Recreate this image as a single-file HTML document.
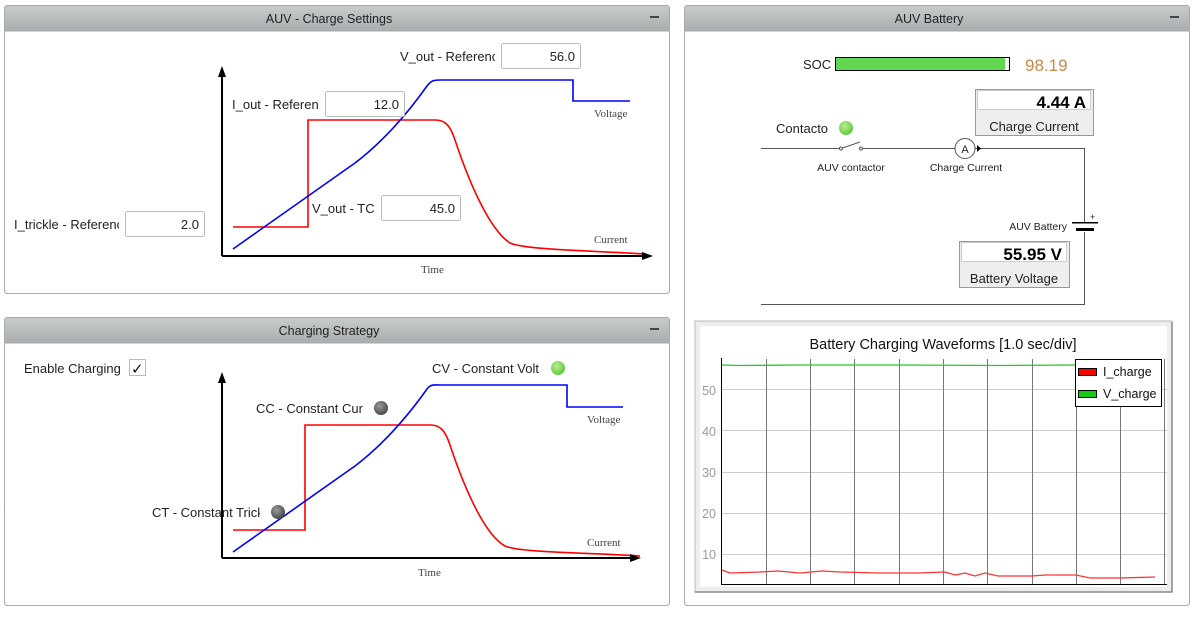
<!DOCTYPE html>
<html><head><meta charset="utf-8"><style>
body{margin:0;background:#fff;font-family:"Liberation Sans","DejaVu Sans",sans-serif;}
svg text{font-family:"Liberation Sans","DejaVu Sans",sans-serif;}
.serif{font-family:"Liberation Serif",serif !important;fill:#444;font-size:11px}
</style></head><body>
<svg width="1195" height="612" viewBox="0 0 1195 612" xmlns="http://www.w3.org/2000/svg">
<defs>
<linearGradient id="hd" x1="0" y1="0" x2="0" y2="1"><stop offset="0" stop-color="#c9cccd"/><stop offset="1" stop-color="#a9adae"/></linearGradient>
<radialGradient id="gl" cx="0.4" cy="0.35" r="0.7"><stop offset="0" stop-color="#b8f08a"/><stop offset="1" stop-color="#5cc53a"/></radialGradient>
<radialGradient id="gd" cx="0.4" cy="0.35" r="0.7"><stop offset="0" stop-color="#999"/><stop offset="1" stop-color="#444"/></radialGradient>
<clipPath id="c1"><rect x="400" y="40" width="95" height="30"/></clipPath>
<clipPath id="c2"><rect x="232" y="90" width="87" height="30"/></clipPath>
<clipPath id="c3"><rect x="14" y="210" width="105" height="30"/></clipPath>
<clipPath id="c4"><rect x="432" y="355" width="107" height="30"/></clipPath>
<clipPath id="c5"><rect x="256" y="395" width="107" height="30"/></clipPath>
<clipPath id="c6"><rect x="152" y="500" width="108" height="30"/></clipPath>
</defs>
<!-- Panel 1 -->
<rect x="4.5" y="5.5" width="665" height="288" rx="3" fill="#fff" stroke="#aaa"/>
<path d="M4.5 31 V8.5 a3 3 0 0 1 3 -3 H666.5 a3 3 0 0 1 3 3 V31 Z" fill="url(#hd)" stroke="#aaa"/>
<text x="329" y="23" font-size="12.5" text-anchor="middle" fill="#222">AUV - Charge Settings</text>
<rect x="650" y="16" width="9" height="2" fill="#444"/>
<g fill="none" stroke-width="1.6">
<path d="M233 227 H308 V120 H435 C445 120 450 125 455 140 C470 185 490 230 510 243 C525 250 600 251 645 254" stroke="#f00"/>
<path d="M233 249 L355 163 C385 140 410 110 427 86 C431 81 433 80 440 80 H573 V101 H630" stroke="#00f"/>
</g>
<path d="M222 256 V74 M222 256 H645" stroke="#000" stroke-width="2" fill="none"/>
<path d="M222 66 L218 77 L226 77Z M653 256 L642 252 L642 260Z" fill="#000"/>
<text x="594" y="117" class="serif">Voltage</text>
<text x="594" y="243" class="serif">Current</text>
<text x="421" y="273" class="serif">Time</text>
<g font-size="13" fill="#222">
<text x="400" y="61" clip-path="url(#c1)">V_out - Reference</text>
<text x="232" y="109" clip-path="url(#c2)">I_out - Reference</text>
<text x="312" y="213">V_out - TC</text>
<text x="14" y="229" clip-path="url(#c3)">I_trickle - Reference</text>
</g>
<g fill="#fff" stroke="#bbb"><rect x="501.5" y="43.5" width="79" height="25" rx="2"/><rect x="325.5" y="91.5" width="79" height="25" rx="2"/><rect x="381.5" y="195.5" width="79" height="25" rx="2"/><rect x="125.5" y="211.5" width="79" height="25" rx="2"/></g>
<g font-size="13" fill="#222" text-anchor="end"><text x="575" y="61">56.0</text><text x="399" y="109">12.0</text><text x="455" y="213">45.0</text><text x="199" y="229">2.0</text></g>

<!-- Panel 2 -->
<rect x="4.5" y="317.5" width="665" height="288" rx="3" fill="#fff" stroke="#aaa"/>
<path d="M4.5 343 V320.5 a3 3 0 0 1 3 -3 H666.5 a3 3 0 0 1 3 3 V343 Z" fill="url(#hd)" stroke="#aaa"/>
<text x="329" y="335" font-size="12.5" text-anchor="middle" fill="#222">Charging Strategy</text>
<rect x="650" y="328" width="9" height="2" fill="#444"/>
<text x="24" y="373" font-size="13" fill="#222">Enable Charging</text>
<rect x="129.5" y="359.5" width="16" height="16" fill="#fff" stroke="#bbb"/>
<text x="131" y="374" font-size="15" font-weight="bold" fill="#111">✓</text>
<g fill="none" stroke-width="1.6">
<path d="M233 530 H305 V425 H430 C440 425 445 430 450 445 C465 490 485 535 505 546 C520 553 600 553 640 556" stroke="#f00"/>
<path d="M233 552 L355 466 C385 443 410 413 427 389 C431 384 433 385 440 385 H567 V407 H623" stroke="#00f"/>
</g>
<path d="M222 558 V380 M222 558 H633" stroke="#000" stroke-width="2" fill="none"/>
<path d="M222 372 L218 383 L226 383Z M641 558 L630 554 L630 562Z" fill="#000"/>
<text x="587" y="423" class="serif">Voltage</text>
<text x="587" y="546" class="serif">Current</text>
<text x="418" y="576" class="serif">Time</text>
<g font-size="13" fill="#222">
<text x="432" y="373" clip-path="url(#c4)">CV - Constant Voltage</text>
<text x="256" y="413" clip-path="url(#c5)">CC - Constant Current</text>
<text x="152" y="517" clip-path="url(#c6)">CT - Constant Trickle</text>
</g>
<circle cx="558" cy="368" r="7" fill="url(#gl)"/>
<circle cx="381" cy="408" r="7" fill="url(#gd)"/>
<circle cx="278" cy="512" r="7" fill="url(#gd)"/>

<!-- Panel 3 -->
<rect x="684.5" y="5.5" width="505" height="600" rx="3" fill="#fff" stroke="#aaa"/>
<path d="M684.5 31 V8.5 a3 3 0 0 1 3 -3 H1186.5 a3 3 0 0 1 3 3 V31 Z" fill="url(#hd)" stroke="#aaa"/>
<text x="929" y="23" font-size="12.5" text-anchor="middle" fill="#222">AUV Battery</text>
<rect x="1170" y="16" width="9" height="2" fill="#444"/>
<text x="803" y="69" font-size="13" fill="#222">SOC</text>
<rect x="835.5" y="57.5" width="174" height="13" fill="#fff" stroke="#000"/>
<rect x="836" y="58" width="169" height="12" fill="#62d752"/>
<text x="1025" y="71" font-size="17" fill="#c88a48">98.19</text>
<text x="776" y="133" font-size="13" fill="#222">Contacto</text>
<circle cx="846" cy="128" r="7" fill="url(#gl)"/>
<rect x="975.5" y="89.5" width="118" height="46" fill="#eee" stroke="#999"/>
<rect x="977.5" y="90.5" width="113" height="19" fill="#fff" stroke="#ccc"/>
<text x="1086" y="108" font-size="17" font-weight="bold" text-anchor="end" fill="#000">4.44 A</text>
<text x="1034" y="131" font-size="13" text-anchor="middle" fill="#222">Charge Current</text>
<g stroke="#555" fill="none">
<path d="M761 148.5 H841 M861 148.5 H955 M975 148.5 H1084.5 V222 M1084.5 232 V304.5 H761"/>
<path d="M841 148.5 L860 142"/>
<circle cx="965" cy="148.5" r="10" fill="#fff"/>
</g>
<circle cx="841" cy="148.5" r="1.5" fill="#fff" stroke="#555"/><circle cx="861" cy="148.5" r="1.5" fill="#fff" stroke="#555"/>
<path d="M977 145 L981 148.5 L977 152Z" fill="#000"/>
<text x="965" y="153" font-size="11" text-anchor="middle" fill="#222">A</text>
<text x="851" y="171" font-size="10.5" text-anchor="middle" fill="#222">AUV contactor</text>
<text x="966" y="171" font-size="10.5" text-anchor="middle" fill="#222">Charge Current</text>
<rect x="1072" y="222" width="26" height="1.5" fill="#000"/><rect x="1076" y="228" width="18" height="3" fill="#000"/>
<text x="1090" y="220" font-size="9" fill="#222">+</text>
<text x="1067" y="230" font-size="10.5" text-anchor="end" fill="#222">AUV Battery</text>
<rect x="959.5" y="241.5" width="110" height="46" fill="#eee" stroke="#999"/>
<rect x="961.5" y="242.5" width="105" height="19" fill="#fff" stroke="#ccc"/>
<text x="1062" y="260" font-size="17" font-weight="bold" text-anchor="end" fill="#000">55.95 V</text>
<text x="1014" y="283" font-size="13" text-anchor="middle" fill="#222">Battery Voltage</text>
<rect x="695" y="321" width="477" height="271" fill="#eee" stroke="#bbb"/>
<path d="M1172 322 V592 H695" stroke="#888" stroke-width="1.5" fill="none"/>
<rect x="700" y="326" width="467" height="261" fill="#fff"/>
<text x="943" y="349" font-size="14.5" text-anchor="middle" fill="#111">Battery Charging Waveforms [1.0 sec/div]</text>
<g stroke="#ccc"><path d="M721 389.5 H1167 M721 430.5 H1167 M721 472.5 H1167 M721 513.5 H1167 M721 554.5 H1167"/></g>
<g stroke="#777"><path d="M766.5 359 V585 M810.5 359 V585 M854.5 359 V585 M899.5 359 V585 M943.5 359 V585 M987.5 359 V585 M1032.5 359 V585 M1076.5 359 V585 M1120.5 359 V585 M1164.5 359 V585"/></g>
<path d="M721.5 358 V584.5 H1167" stroke="#000" fill="none"/>
<g font-size="12.5" fill="#999" text-anchor="end"><text x="716" y="395">50</text><text x="716" y="436">40</text><text x="716" y="477">30</text><text x="716" y="518">20</text><text x="716" y="559">10</text></g>
<path d="M722 365 L740 365.5 L800 365 L900 365 L1000 365.5 L1155 364.5" stroke="#2c2" stroke-width="1.3" fill="none"/>
<path d="M722 570 L730 573 L760 572 L778 571 L800 573 L822 571 L840 572 L880 573 L918 573 L945 572 L955 575 L965 573 L975 576 L985 573 L998 576 L1015 576 L1032 576 L1045 575 L1076 575 L1090 578 L1120 578 L1155 577" stroke="#f33" stroke-width="1.3" fill="none"/>
<rect x="1075.5" y="359.5" width="86" height="47" fill="#fff" stroke="#000"/>
<rect x="1078.5" y="368.5" width="18" height="7" fill="#f00" stroke="#000"/>
<rect x="1078.5" y="390.5" width="18" height="7" fill="#1c1" stroke="#000"/>
<text x="1103" y="376" font-size="12.5" fill="#111">I_charge</text>
<text x="1103" y="398" font-size="12.5" fill="#111">V_charge</text>
</svg>
</body></html>
